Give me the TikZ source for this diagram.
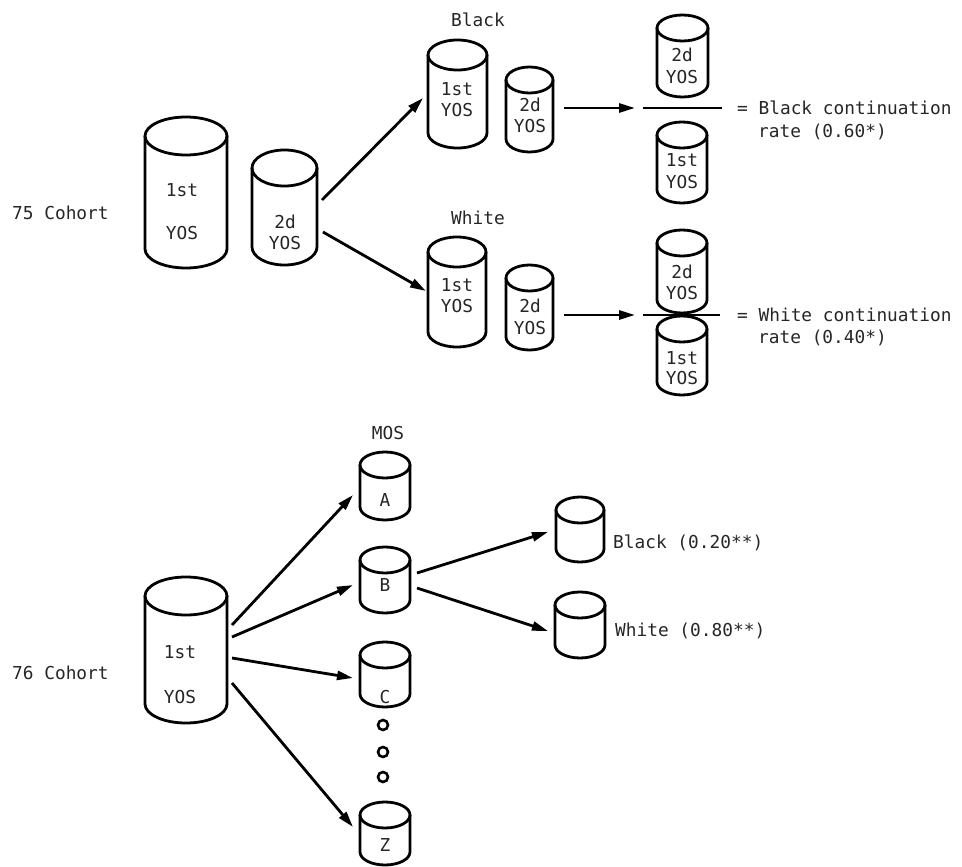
\documentclass[tikz,border=0pt]{standalone}
\usepackage{fontspec}
\setmonofont{DejaVu Sans Mono}
\usetikzlibrary{arrows.meta}
\tikzset{
  cylline/.style={line width=2.8pt, line join=round},
  cylbox/.style={inner sep=0pt, outer sep=0pt, draw=none},
  lbl/.style={font=\ttfamily\fontsize{17.8}{20}\selectfont, text=black!85, inner sep=0pt, text height=13pt, text depth=0pt},
  arr/.style={line width=2.8pt, -{Triangle[length=16pt,width=9pt]}},
  fracbar/.style={line width=2.8pt},
  ring/.style={circle, draw, line width=2.6pt, minimum size=10pt, inner sep=0pt}
}
% name, cx, ytop, ybottom, rx, ry  (pixel coordinates, y downwards)
\newcommand\cyl[6]{%
  \pgfmathsetmacro\cyA{-(#3)-(#6)}%
  \pgfmathsetmacro\cyB{-(#4)+(#6)}%
  \pgfmathsetmacro\cyM{-((#3)+(#4))/2}%
  \pgfmathsetmacro\cyW{2*(#5)}%
  \pgfmathsetmacro\cyH{(#4)-(#3)}%
  \pgfmathsetmacro\cyL{(#2)-(#5)}%
  \pgfmathsetmacro\cyR{(#2)+(#5)}%
  \node[cylbox, minimum width=\cyW pt, minimum height=\cyH pt] (#1) at (#2,\cyM) {};
  \draw[cylline] (\cyL,\cyA) -- (\cyL,\cyB) arc[start angle=180, end angle=360, x radius=#5pt, y radius=#6pt] -- (\cyR,\cyA);
  \draw[cylline] (#2,\cyA) ellipse[x radius=#5pt, y radius=#6pt];
}
% name, x, y, text
\newcommand\ctext[4]{\node[lbl] (#1) at (#2,-#3) {#4};}
\begin{document}
\begin{tikzpicture}[x=1pt,y=1pt]
\useasboundingbox (0,0) rectangle (962,-867);

% ---------- 75 cohort ----------
\node[lbl, anchor=west] (l75) at (12,-213) {75 Cohort};
\cyl{big75}{186}{117}{268}{41}{19}
\ctext{big75a}{182}{190}{1st}
\ctext{big75b}{182}{233}{YOS}
\cyl{c2d75}{284.5}{150}{265}{32.5}{18}
\ctext{c2d75a}{285}{222}{2d}
\ctext{c2d75b}{285}{243}{YOS}

\node[lbl] (lblack) at (478,-20) {Black};
\node[lbl] (lwhite) at (478,-218) {White};

\cyl{b1st}{457.5}{40}{148}{29.5}{15}
\ctext{b1sta}{457}{89}{1st}
\ctext{b1stb}{457}{110}{YOS}
\cyl{b2d}{529.5}{67}{152}{23.5}{13}
\ctext{b2da}{530}{105}{2d}
\ctext{b2db}{530}{126}{YOS}

\cyl{w1st}{457}{237}{347}{29}{15}
\ctext{w1sta}{457}{285}{1st}
\ctext{w1stb}{457}{306}{YOS}
\cyl{w2d}{529.5}{265}{350}{23.5}{13}
\ctext{w2da}{530}{306}{2d}
\ctext{w2db}{530}{328}{YOS}

\draw[arr] ([shift={(5,7.5)}]c2d75.east) -- ([shift={(-5,-4)}]b1st.west);
\draw[arr] ([shift={(6,-24.5)}]c2d75.east) -- ([shift={(-2,1)}]w1st.west);

% black rate
\cyl{bnum}{682.5}{15}{97}{25.5}{13}
\ctext{bnuma}{682}{55}{2d}
\ctext{bnumb}{682}{77}{YOS}
\node[cylbox, minimum width=79pt] (bbar) at (682.5,-108) {};
\draw[fracbar] (bbar.west) -- (bbar.east);
\cyl{bden}{682}{122}{203}{25}{13}
\ctext{bdena}{682}{160}{1st}
\ctext{bdenb}{682}{182}{YOS}
\draw[arr] ([xshift=11pt]b2d.east |- bbar.west) -- ([xshift=-8pt]bbar.west);
\node[lbl, anchor=west] (brate1) at (737,-108) {= Black continuation};
\node[lbl, anchor=west] (brate2) at (758,-131) {rate (0.60*)};

% white rate
\cyl{wnum}{682}{230}{313}{25}{13}
\ctext{wnuma}{682}{272}{2d}
\ctext{wnumb}{682}{293}{YOS}
\cyl{wden}{682}{316}{395}{25}{13}
\ctext{wdena}{682}{358}{1st}
\ctext{wdenb}{682}{378}{YOS}
\node[cylbox, minimum width=77pt] (wbar) at (681.5,-315) {};
\draw[fracbar] (wbar.west) -- (wbar.east);
\draw[arr] ([xshift=11pt]w2d.east |- wbar.west) -- ([xshift=-8pt]wbar.west);
\node[lbl, anchor=west] (wrate1) at (737,-315) {= White continuation};
\node[lbl, anchor=west] (wrate2) at (758,-337) {rate (0.40*)};

% ---------- 76 cohort ----------
\node[lbl, anchor=west] (l76) at (12,-673) {76 Cohort};
\cyl{big76}{186}{577}{723}{41}{19}
\ctext{big76a}{180}{652}{1st}
\ctext{big76b}{180}{697}{YOS}

\node[lbl] (lmos) at (388,-433) {MOS};
\cyl{mA}{385}{452}{520}{25}{13}
\ctext{mAt}{385}{500}{A}
\cyl{mB}{385}{547}{613}{25}{13}
\ctext{mBt}{385}{585}{B}
\cyl{mC}{385}{642}{707}{25}{13}
\ctext{mCt}{385}{697}{C}
\cyl{mZ}{385}{802}{865}{25}{13}
\ctext{mZt}{385}{845}{Z}

\node[ring] (d1) at (383,-725) {};
\node[ring] (d2) at (383,-752) {};
\node[ring] (d3) at (383,-777) {};

\draw[arr] ([shift={(5,25)}]big76.east) -- ([shift={(-7,-9)}]mA.west);
\draw[arr] ([shift={(5,13)}]big76.east) -- ([shift={(-7,-5)}]mB.west);
\draw[arr] ([shift={(5,-8)}]big76.east) -- ([shift={(-7,-3.5)}]mC.west);
\draw[arr] ([shift={(5,-33)}]big76.east) -- ([shift={(-7,6.5)}]mZ.west);

\cyl{blk}{580}{497}{562}{24}{13}
\cyl{wht}{580}{592}{658}{25}{13}
\draw[arr] ([shift={(7,7)}]mB.east) -- ([shift={(-8,-2.5)}]blk.west);
\draw[arr] ([shift={(7,-8)}]mB.east) -- ([shift={(-7,-6)}]wht.west);
\node[lbl, anchor=west] (lblk) at (613,-542) {Black (0.20**)};
\node[lbl, anchor=west] (lwht) at (615,-630) {White (0.80**)};
\end{tikzpicture}
\end{document}
